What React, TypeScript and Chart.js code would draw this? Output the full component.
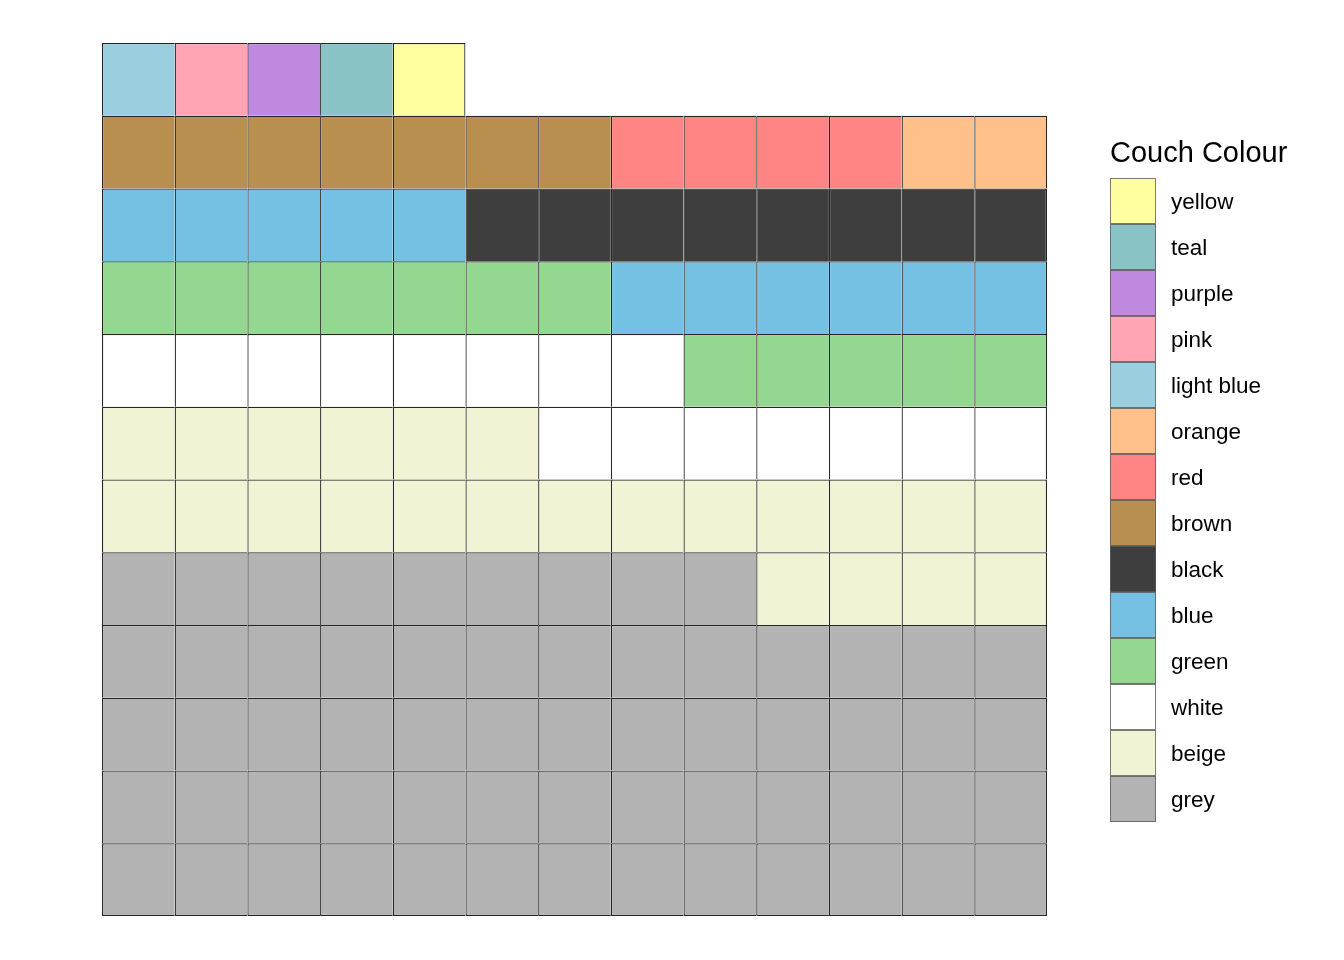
import React, { useEffect, useRef } from "react";
import { Chart, registerables } from "chart.js";

Chart.register(...registerables);

// Fill order: bottom-left first, row by row
const colourNames = ["grey", "beige", "white", "green", "blue", "black", "brown", "red", "orange", "light blue", "pink", "purple", "teal", "yellow"];
const colourCounts = [61, 23, 15, 12, 11, 8, 7, 4, 2, 1, 1, 1, 1, 1];
const colourFills = ["#B3B3B3", "#F2F2D5", "#FFFFFF", "#93D791", "#74C1E4", "#3E3E3E", "#B98F50", "#FF8585", "#FFC08A", "#9ACFE0", "#FFA5B4", "#BF89E0", "#89C3C6", "#FFFFA0"];
const columnLabels = ["1", "2", "3", "4", "5", "6", "7", "8", "9", "10", "11", "12", "13"];
const legendTitle = "Couch Colour";

const FONT = "'Liberation Sans', Arial, Helvetica, sans-serif";

function buildDatasets() {
  const cells: number[] = [];
  colourCounts.forEach((n, k) => {
    for (let i = 0; i < n; i++) cells.push(k);
  });
  const nCols = columnLabels.length;
  const total = cells.length;
  const nRows = Math.ceil(total / nCols);
  const datasets = [];
  for (let r = 0; r < nRows; r++) {
    const data = columnLabels.map((_, c) => (r * nCols + c < total ? 1 : null));
    const bg = columnLabels.map((_, c) => {
      const idx = r * nCols + c;
      return idx < total ? colourFills[cells[idx]] : "rgba(0,0,0,0)";
    });
    datasets.push({
      label: "row " + (r + 1),
      data,
      backgroundColor: bg,
      borderColor: "rgba(0,0,0,0.85)",
      borderWidth: (ctx: any) => {
        const c = ctx.dataIndex;
        const idx = r * nCols + c;
        const hasRight = c < nCols - 1 && idx + 1 < total;
        const w = 1.25;
        return { left: w, top: w, right: hasRight ? 0 : w, bottom: r === 0 ? w : 0 };
      },
      borderSkipped: false,
      inflateAmount: 0,
      barPercentage: 1,
      categoryPercentage: 1,
    });
  }
  return { datasets, nRows };
}

const legendPlugin = {
  id: "couchLegend",
  afterDraw(chart: any) {
    const ctx = chart.ctx;
    const x0 = chart.chartArea.right + 63;
    const boxTop = 178;
    const boxSize = 46;
    ctx.save();
    ctx.fillStyle = "#000";
    ctx.font = `29px ${FONT}`;
    ctx.textAlign = "left";
    ctx.textBaseline = "alphabetic";
    ctx.fillText(legendTitle, x0, 162);
    const order = colourNames.map((_, i) => i).reverse();
    order.forEach((k, j) => {
      const y = boxTop + j * boxSize;
      ctx.fillStyle = colourFills[k];
      ctx.fillRect(x0, y, boxSize, boxSize);
      ctx.strokeStyle = "rgba(90,90,90,0.8)";
      ctx.lineWidth = 1;
      ctx.strokeRect(x0 + 0.5, y + 0.5, boxSize - 1, boxSize - 1);
      ctx.fillStyle = "#000";
      ctx.font = `22.5px ${FONT}`;
      ctx.textBaseline = "middle";
      ctx.fillText(colourNames[k], x0 + 61, y + boxSize / 2 + 2);
    });
    ctx.restore();
  },
};

export default function App() {
  const ref = useRef<HTMLCanvasElement | null>(null);
  useEffect(() => {
    if (!ref.current) return;
    const { datasets, nRows } = buildDatasets();
    const chart = new Chart(ref.current, {
      type: "bar",
      data: { labels: columnLabels, datasets: datasets as any },
      options: {
        animation: false,
        responsive: false,
        maintainAspectRatio: false,
        layout: { padding: { left: 102, top: 43, right: 297, bottom: 44 } },
        plugins: {
          legend: { display: false },
          tooltip: { enabled: false },
        },
        scales: {
          x: { stacked: true, display: false, offset: true, grid: { display: false } },
          y: { stacked: true, display: false, min: 0, max: nRows, grid: { display: false } },
        },
      },
      plugins: [legendPlugin],
    });
    return () => chart.destroy();
  }, []);
  return (
    <div style={{ position: "fixed", left: 0, top: 0, width: 1344, height: 960, background: "#fff" }}>
      <canvas ref={ref} width={1344} height={960} style={{ width: 1344, height: 960 }} />
    </div>
  );
}
